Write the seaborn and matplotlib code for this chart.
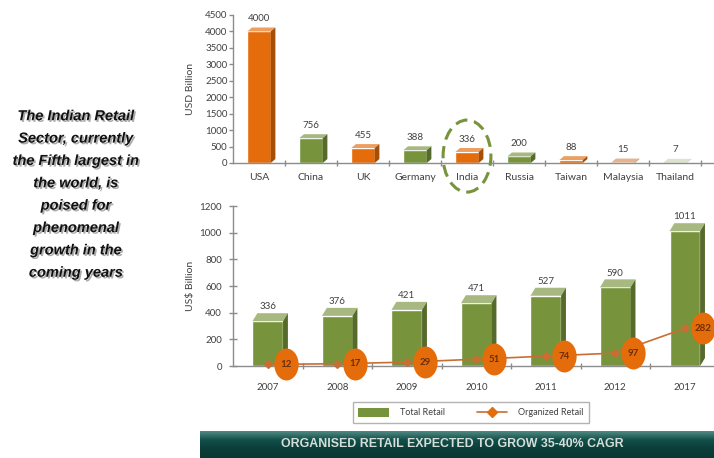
import numpy as np
import matplotlib
matplotlib.use("Agg")
import matplotlib.pyplot as plt
import seaborn as sns
from matplotlib.patches import Ellipse, Polygon, Patch
from matplotlib.lines import Line2D
from matplotlib.path import Path
from matplotlib.transforms import Affine2D, ScaledTranslation
from matplotlib.colors import LinearSegmentedColormap, to_rgb
import matplotlib.patheffects as pe

# ---------------- data ----------------
countries = ["USA", "China", "UK", "Germany", "India", "Russia", "Taiwan", "Malaysia", "Thailand"]
retail_size = [4000, 756, 455, 388, 336, 200, 88, 15, 7]
country_colors = ["#E46C0A", "#77933C", "#E46C0A", "#77933C", "#E46C0A",
                  "#77933C", "#E46C0A", "#D98A4E", "#C9D4B4"]
top_yticks = [0, 500, 1000, 1500, 2000, 2500, 3000, 3500, 4000, 4500]

years = ["2007", "2008", "2009", "2010", "2011", "2012", "2017"]
total_retail = [336, 376, 421, 471, 527, 590, 1011]
organized_retail = [12, 17, 29, 51, 74, 97, 282]
bottom_yticks = [0, 200, 400, 600, 800, 1000, 1200]

side_text = ("The Indian Retail\nSector, currently\nthe Fifth largest in\n"
             "the world, is\npoised for\nphenomenal\ngrowth in the\ncoming years")
banner_text = "ORGANISED RETAIL EXPECTED TO GROW 35-40% CAGR"

GREEN = "#77933C"
ORANGE = "#E46C0A"
TXT = "#404040"
AXC = "#8C8C8C"

sns.set_theme(style="white")
plt.rcParams["font.family"] = ["Lato", "DejaVu Sans"]

W, H = 714, 458
fig = plt.figure(figsize=(W / 100, H / 100), dpi=100)


def lighter(c, f=0.35):
    r = np.array(to_rgb(c))
    return tuple(r + (1 - r) * f)


def darker(c, f=0.72):
    return tuple(np.array(to_rgb(c)) * f)


def add_depth(ax, dx, dy):
    for p in list(ax.patches):
        x, w, h = p.get_x(), p.get_width(), p.get_height()
        c = p.get_facecolor()
        top = Polygon([(x, h), (x + dx, h + dy), (x + w + dx, h + dy), (x + w, h)],
                      closed=True, facecolor=lighter(c), edgecolor="none", zorder=p.get_zorder())
        side = Polygon([(x + w, 0), (x + w, h), (x + w + dx, h + dy), (x + w + dx, dy)],
                       closed=True, facecolor=darker(c), edgecolor="none", zorder=p.get_zorder())
        ax.add_patch(top)
        ax.add_patch(side)


def style_axes(ax):
    sns.despine(ax=ax)
    for s in ["left", "bottom"]:
        ax.spines[s].set_color(AXC)
        ax.spines[s].set_linewidth(1.0)


# ---------------- top chart ----------------
ax1 = fig.add_axes([233 / W, (H - 163) / H, (W - 233) / W, 148 / H])
sns.barplot(x=countries, y=retail_size, hue=countries, palette=country_colors,
            legend=False, width=0.45, saturation=1, ax=ax1)
add_depth(ax1, dx=0.09, dy=120)
for cont in ax1.containers:
    ax1.bar_label(cont, padding=6, fontsize=7, color=TXT)
ax1.set_ylim(0, 4500)
ax1.set_xlim(-0.5, 8.75)
ax1.set_yticks(top_yticks)
ax1.set_xticks(range(len(countries)))
ax1.set_xticks(np.arange(0.5, len(countries), 1.0), minor=True)
ax1.tick_params(axis="y", direction="out", length=3, width=1, color=AXC, pad=1,
                labelsize=7, labelcolor=TXT, left=True)
ax1.tick_params(axis="x", which="major", length=0, pad=7, labelsize=7.5, labelcolor=TXT)
ax1.tick_params(axis="x", which="minor", direction="inout", length=4, width=1,
                color=AXC, bottom=True)
ax1.set_xlabel("")
ax1.set_ylabel("USD Billion", fontsize=7.5, color=TXT)
ax1.yaxis.set_label_coords(-0.078, 0.5)
style_axes(ax1)
india = countries.index("India")
ax1.add_patch(Ellipse((india, 210), width=0.92, height=2190, fill=False,
                      edgecolor=GREEN, linewidth=2.2, linestyle=(0, (4, 2.2)),
                      clip_on=False, zorder=5))

# ---------------- bottom chart ----------------
ax2 = fig.add_axes([233 / W, (H - 366) / H, (W - 233) / W, 160 / H])
sns.barplot(x=years, y=total_retail, color=GREEN, width=0.44, saturation=1, ax=ax2)
add_depth(ax2, dx=0.07, dy=60)
ax2.bar_label(ax2.containers[0], padding=7, fontsize=7, color=TXT)
sns.pointplot(x=years, y=organized_retail, color="#C96E33", markers="D",
              markersize=4, linewidth=1.2, errorbar=None, ax=ax2)
for ln in ax2.lines:
    ln.set_zorder(6)
    ln.set_clip_on(False)

oval = Path.unit_circle().transformed(Affine2D().scale(0.76, 1.0))
shift = ScaledTranslation(18 / 100, 0, fig.dpi_scale_trans)
xs = np.arange(len(years))
ax2.plot(xs, organized_retail, linestyle="none", marker=oval, markersize=23,
         markerfacecolor=ORANGE, markeredgecolor="none", zorder=7, clip_on=False,
         transform=ax2.transData + shift)
for xi, v in zip(xs, organized_retail):
    ax2.annotate(str(v), xy=(xi, v), xytext=(13, 0), textcoords="offset points",
                 ha="center", va="center", fontsize=7, fontweight="bold",
                 color="#6E2E06", zorder=8, annotation_clip=False)

ax2.set_ylim(0, 1200)
ax2.set_xlim(-0.5, 6.42)
ax2.set_yticks(bottom_yticks)
ax2.set_xticks(xs)
ax2.set_xticks(np.arange(0.5, len(years) - 1, 1.0), minor=True)
ax2.tick_params(axis="y", direction="inout", length=6, width=1, color=AXC, pad=5,
                labelsize=7, labelcolor=TXT, left=True)
ax2.tick_params(axis="x", which="major", length=0, pad=12, labelsize=7, labelcolor=TXT)
ax2.tick_params(axis="x", which="minor", direction="inout", length=5, width=1,
                color=AXC, bottom=True)
ax2.set_xlabel("")
ax2.set_ylabel("US$ Billion", fontsize=7.5, color=TXT)
ax2.yaxis.set_label_coords(-0.078, 0.5)
style_axes(ax2)

# legend
handles = [Patch(facecolor=GREEN, edgecolor="none"),
           Line2D([0], [0], color="#C96E33", lw=1.2, marker="D", markersize=5,
                  markerfacecolor=ORANGE, markeredgecolor=ORANGE)]
leg = fig.legend(handles, ["Total Retail", "Organized Retail"], ncol=2, loc="center",
                 bbox_to_anchor=(471 / W, (H - 412.5) / H), frameon=True, fancybox=False,
                 edgecolor="#A0A0A0", fontsize=6.5, handlelength=3.4, handleheight=1.2,
                 columnspacing=3.5, borderpad=0.6, handletextpad=1.2)
leg.get_frame().set_linewidth(1.0)
for t in leg.get_texts():
    t.set_color(TXT)

# banner
bax = fig.add_axes([200 / W, 0, (W - 200) / W, 27 / H])
cmap = LinearSegmentedColormap.from_list("teal", ["#4E8A82", "#134F49", "#0B3D39", "#0A3935"])
bax.imshow(np.linspace(0, 1, 60).reshape(-1, 1), cmap=cmap, aspect="auto",
           extent=[0, 1, 0, 1])
bax.set_axis_off()
bax.text(0.49, 0.52, banner_text, ha="center", va="center", fontsize=8.9,
         fontweight="bold", color="#D6DEDA",
         family=["Liberation Sans", "DejaVu Sans"], transform=bax.transAxes)

# side text
fig.text(76 / W, (H - 194.5) / H, side_text, ha="center", va="center",
         fontsize=10.5, fontweight="bold", fontstyle="italic", color="#111111",
         family=["Liberation Sans", "DejaVu Sans"],
         linespacing=1.76,
         path_effects=[pe.withSimplePatchShadow(offset=(1.2, -1.2),
                                                shadow_rgbFace="#888888", alpha=0.7)])

fig.savefig("out.png", dpi=100)
